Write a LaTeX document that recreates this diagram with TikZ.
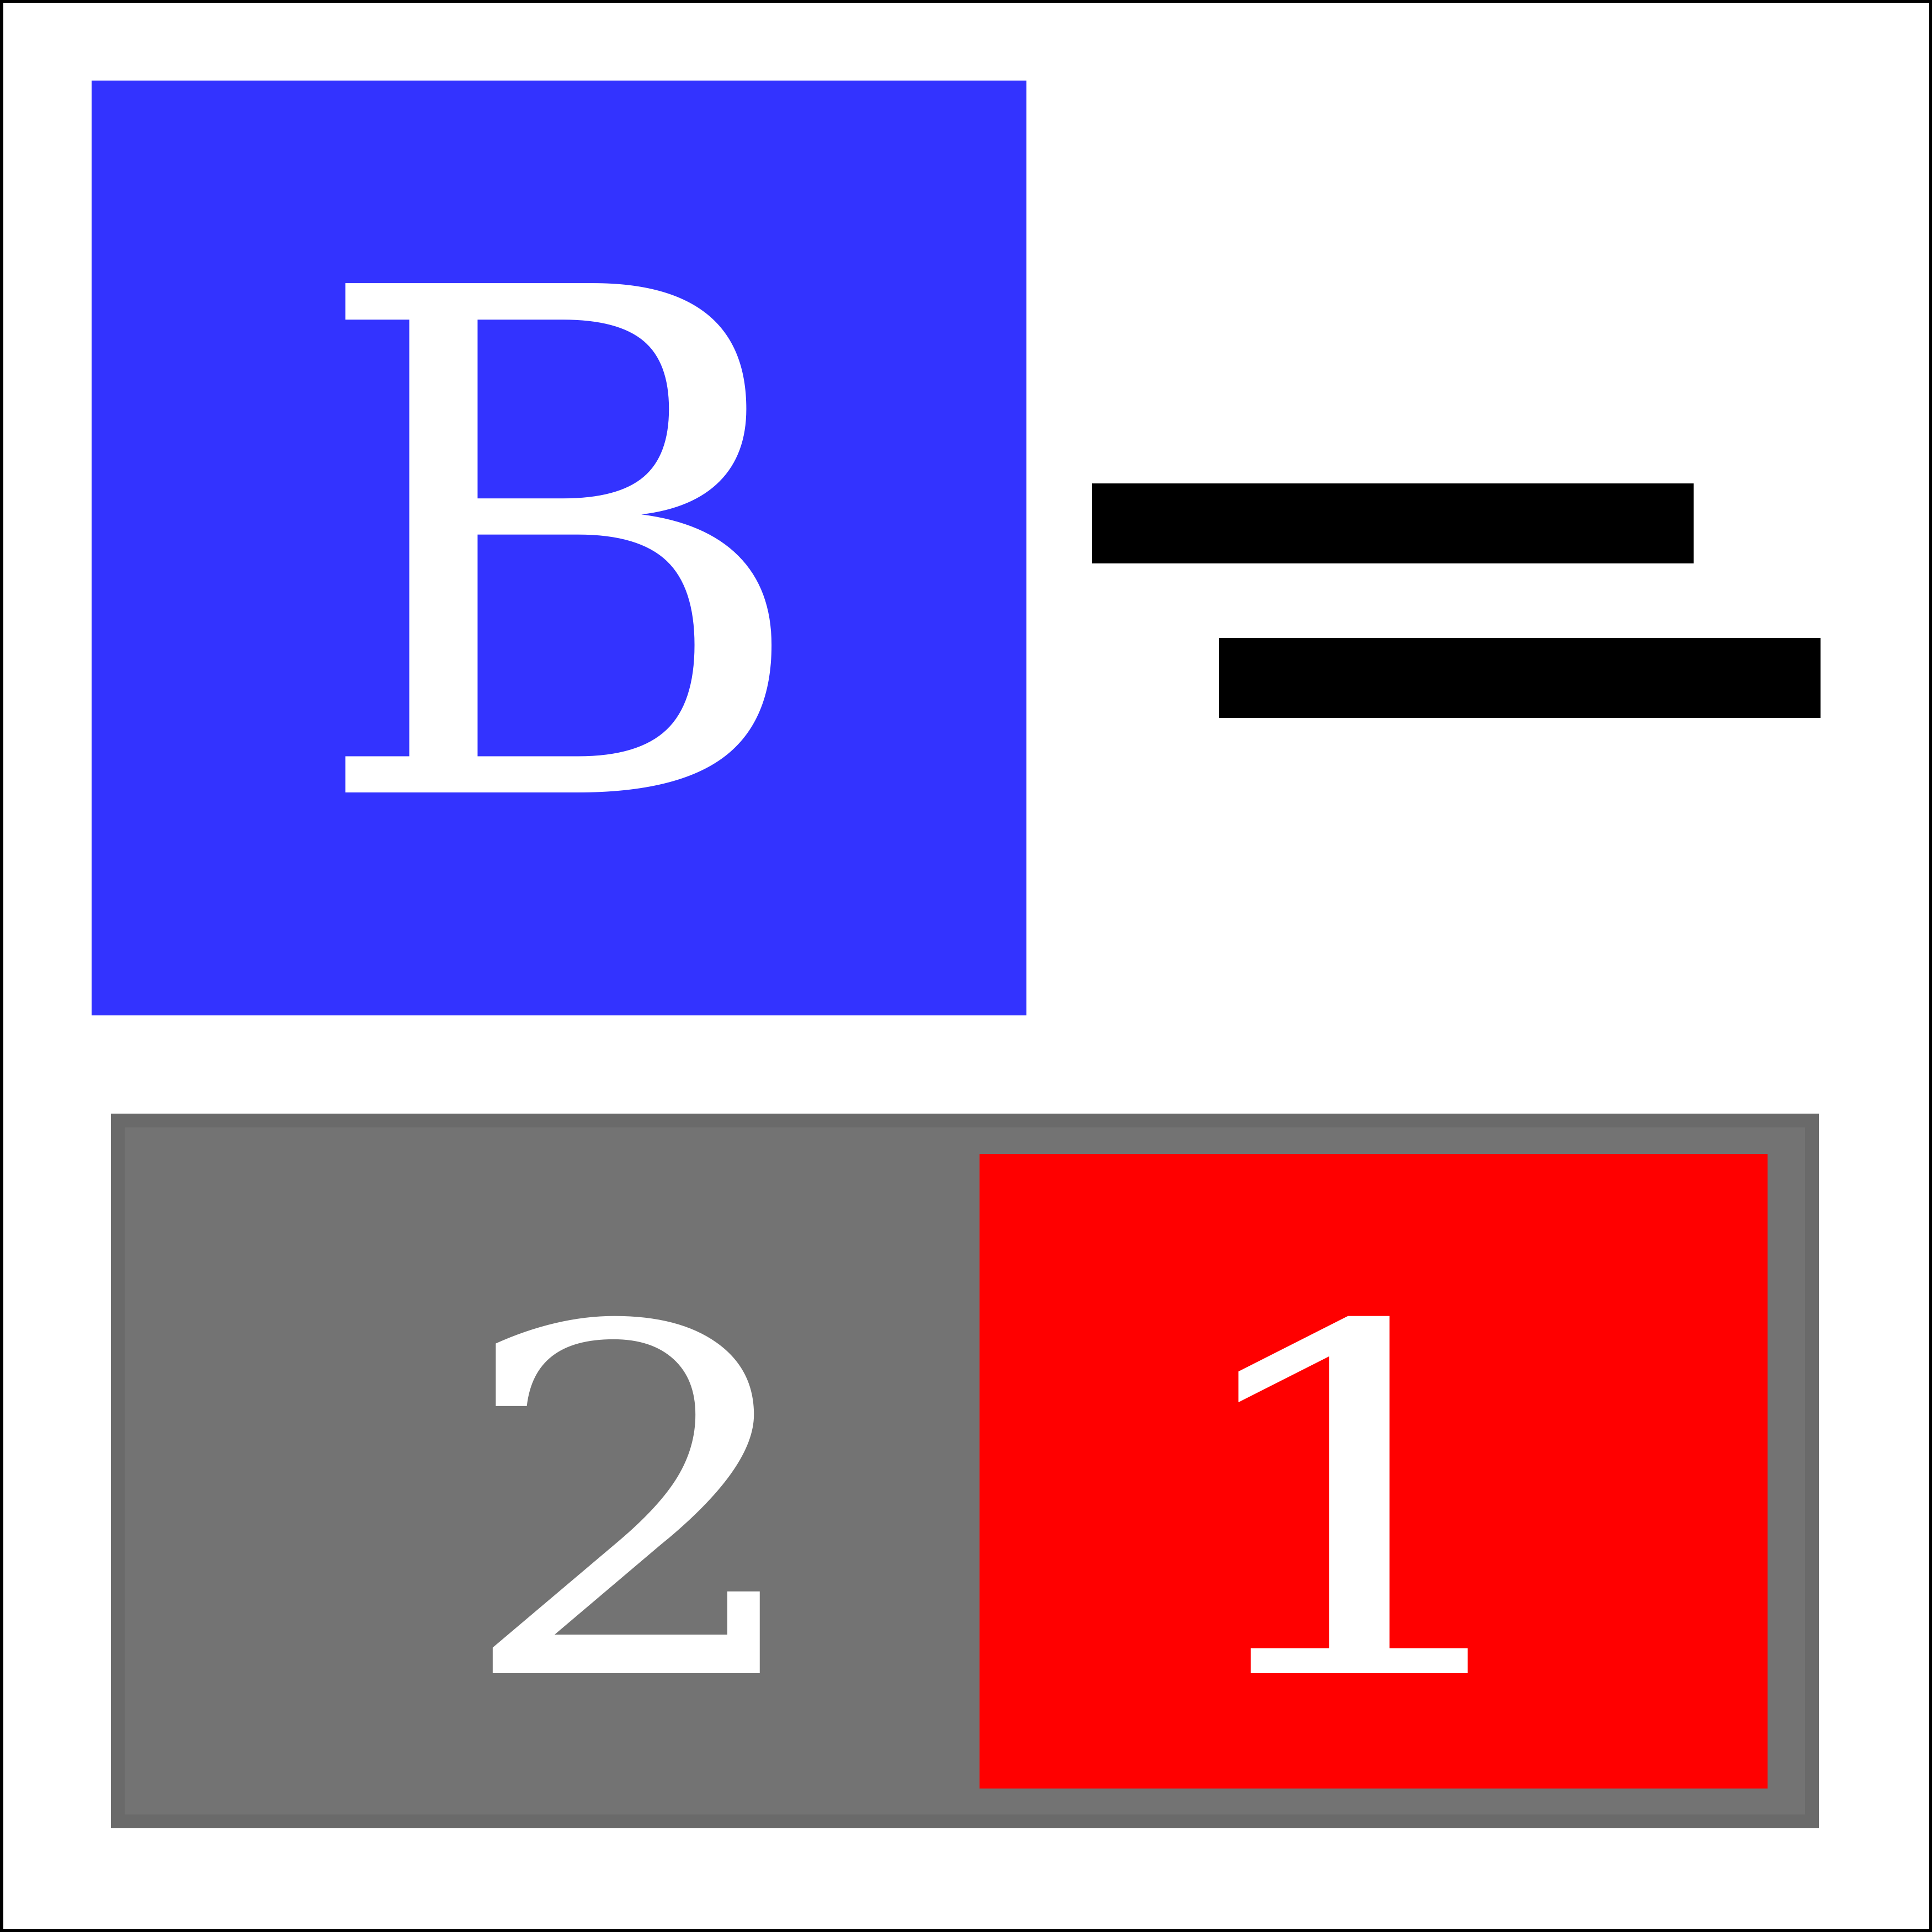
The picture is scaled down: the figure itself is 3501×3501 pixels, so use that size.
\documentclass[tikz,border=0pt]{standalone}
\usepackage{fontspec}
\setmainfont{DejaVu Serif}
\definecolor{blueB}{HTML}{3333FF}
\definecolor{grayfill}{HTML}{737373}
\definecolor{grayedge}{HTML}{6A6A6A}
\definecolor{redone}{HTML}{FF0000}
\tikzset{
  every picture/.style={line join=miter},
  glyph/.style={inner sep=0pt, anchor=base, text=white},
  bigglyph/.style={glyph, font=\fontsize{360}{360}\selectfont},
  digit/.style={glyph, font=\fontsize{248}{248}\selectfont},
  bar/.style={fill=black},
}

\begin{document}
\begin{tikzpicture}[x=0.01cm,y=-0.01cm]
\useasboundingbox (0,0) rectangle (3501,3501);
\draw[line width=0.055cm] (2.75,2.75) rectangle (3498.25,3498.25);
% B block
\fill[blueB] (166,146) rectangle (1860,1840);
\node[bigglyph, xscale=0.986] (letterB) at (1016,1436) {B};
% bars
\fill[bar] (1979,876) rectangle (3069,1021);
\fill[bar] (2209,1156) rectangle (3299,1301);
% counter
\draw[grayedge, fill=grayfill, line width=0.25cm] (213.5,2030.5) rectangle (3283.5,3300.5);
\fill[redone] (1775,2091) rectangle (3203,3241);
\node[digit, xscale=1.18] (two) at (1151,3032) {2};
\node[digit, xscale=1.28] (one) at (2464,3032) {1};
\end{tikzpicture}
\end{document}
